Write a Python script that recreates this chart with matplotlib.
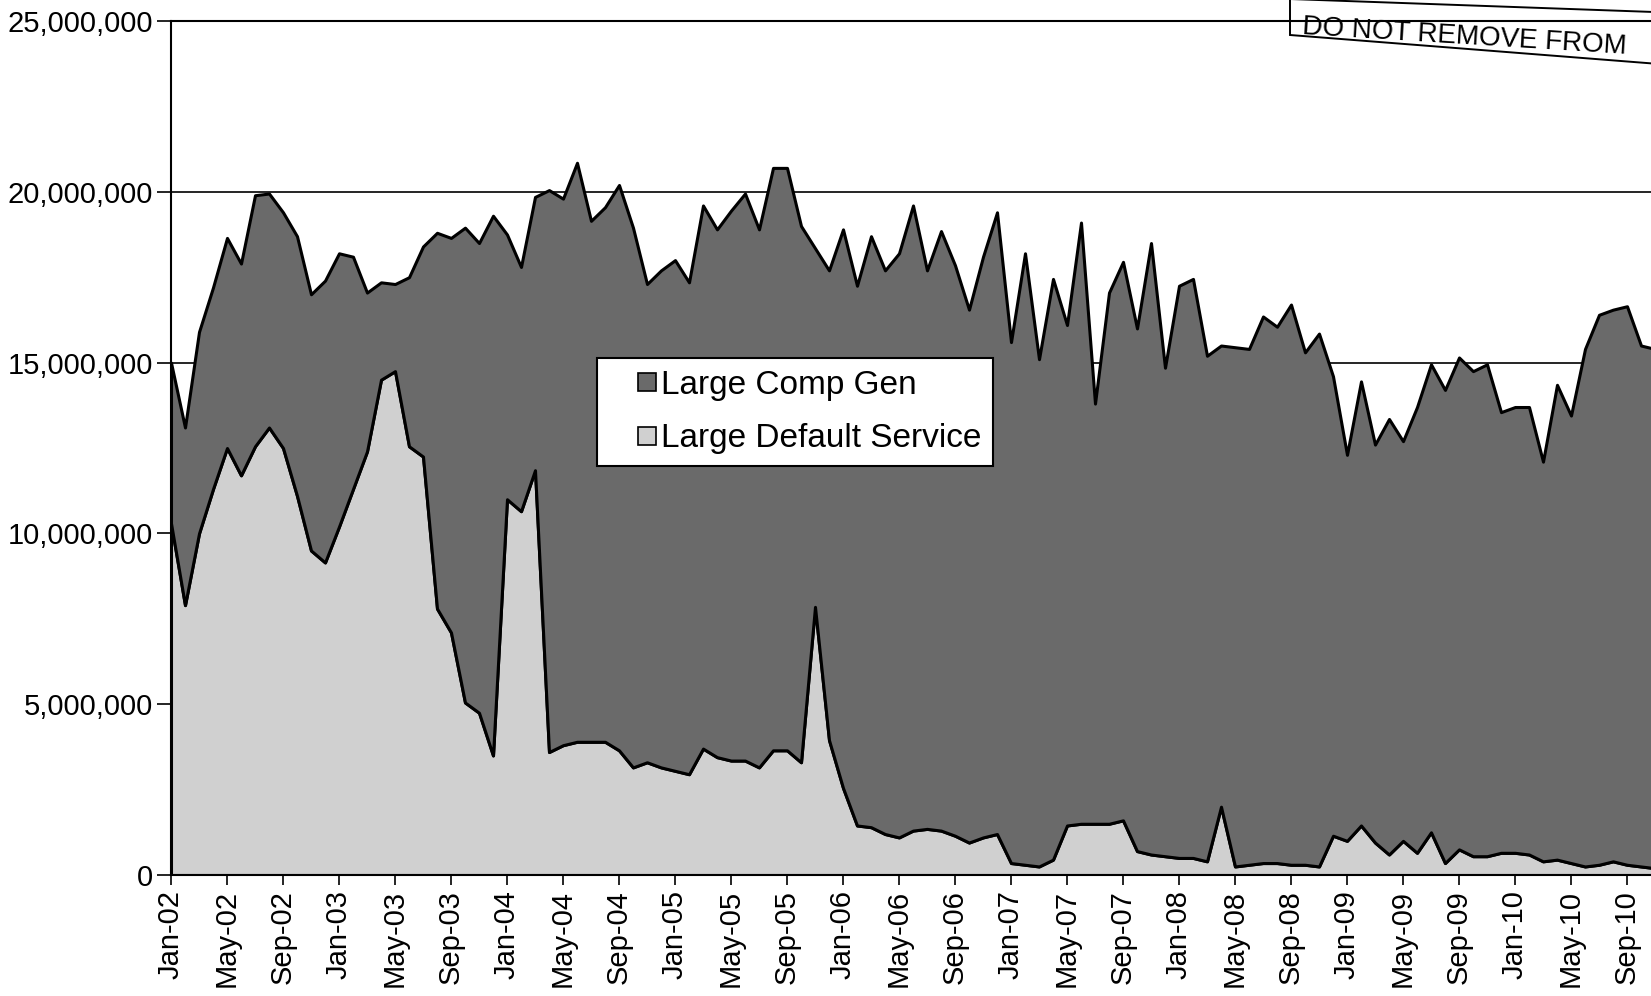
import matplotlib
matplotlib.use("Agg")
import matplotlib.pyplot as plt
import matplotlib.ticker as mticker
from matplotlib.legend_handler import HandlerBase
from matplotlib.patches import Rectangle, Polygon
import numpy as np
import pandas as pd

plt.rcParams["font.family"] = ["Liberation Sans", "DejaVu Sans"]

# monthly values, millions, Jan-02 onwards
default_service = [
    10.3, 7.9, 10.0, 11.3, 12.5, 11.7, 12.55, 13.1, 12.5, 11.1, 9.5, 9.15,
    10.2, 11.3, 12.4, 14.5, 14.75, 12.55, 12.25, 7.8, 7.1, 5.05, 4.75, 3.5,
    11.0, 10.65, 11.85, 3.6, 3.8, 3.9, 3.9, 3.9, 3.65, 3.15, 3.3, 3.15,
    3.05, 2.95, 3.7, 3.45, 3.35, 3.35, 3.15, 3.65, 3.65, 3.3, 7.85, 3.95,
    2.55, 1.45, 1.4, 1.2, 1.1, 1.3, 1.35, 1.3, 1.15, 0.95, 1.1, 1.2,
    0.35, 0.3, 0.25, 0.45, 1.45, 1.5, 1.5, 1.5, 1.6, 0.7, 0.6, 0.55,
    0.5, 0.5, 0.4, 2.0, 0.25, 0.3, 0.35, 0.35, 0.3, 0.3, 0.25, 1.15,
    1.0, 1.45, 0.95, 0.6, 1.0, 0.65, 1.25, 0.35, 0.75, 0.55, 0.55, 0.65,
    0.65, 0.6, 0.4, 0.45, 0.35, 0.25, 0.3, 0.4, 0.3, 0.25, 0.2,
]
comp_gen = [
    4.7, 5.2, 5.9, 5.9, 6.15, 6.2, 7.35, 6.85, 6.9, 7.6, 7.5, 8.25,
    8.0, 6.8, 4.65, 2.85, 2.55, 4.95, 6.15, 11.0, 11.55, 13.9, 13.75, 15.8,
    7.75, 7.15, 8.0, 16.45, 16.0, 16.95, 15.25, 15.65, 16.55, 15.8, 14.0, 14.55,
    14.95, 14.4, 15.9, 15.45, 16.1, 16.6, 15.75, 17.05, 17.05, 15.7, 10.5, 13.75,
    16.35, 15.8, 17.3, 16.5, 17.1, 18.3, 16.35, 17.55, 16.7, 15.6, 17.0, 18.2,
    15.25, 17.9, 14.85, 17.0, 14.65, 17.6, 12.3, 15.55, 16.35, 15.3, 17.9, 14.3,
    16.75, 16.95, 14.8, 13.5, 15.2, 15.1, 16.0, 15.7, 16.4, 15.0, 15.6, 13.45,
    11.3, 13.0, 11.65, 12.75, 11.7, 13.05, 13.7, 13.85, 14.4, 14.2, 14.4, 12.9,
    13.05, 13.1, 11.7, 13.9, 13.1, 15.15, 16.1, 16.15, 16.35, 15.25, 15.2,
]
months = pd.date_range("2002-01-01", periods=len(comp_gen), freq="MS").strftime("%b-%y")
series_names = ["Large Comp Gen", "Large Default Service"]

x = np.arange(len(months))


class SquareHandler(HandlerBase):
    # small square sitting at the right end of the handle box
    def create_artists(self, legend, orig_handle, xdescent, ydescent,
                       width, height, fontsize, trans):
        s = 0.78 * height
        r = Rectangle((-xdescent + width - s, -ydescent + (height - s) / 2), s, s,
                      facecolor=orig_handle.get_facecolor()[0],
                      edgecolor="black", linewidth=1.2, transform=trans)
        return [r]


fig = plt.figure(figsize=(16.51, 9.96), dpi=100)
ax = fig.add_axes([171 / 1651, 121 / 996, 1 - 171 / 1651, 854 / 996])

polys = ax.stackplot(x, default_service, comp_gen,
                     colors=["#d0d0d0", "#6a6a6a"],
                     edgecolor="black", linewidth=2.2, zorder=2)

ax.set_xlim(0, (1651 - 171) / 14.0)
ax.set_ylim(0, 25)
ax.set_yticks(np.arange(0, 26, 5))
ax.yaxis.set_major_formatter(mticker.FuncFormatter(lambda v, p: f"{v * 1e6:,.0f}"))
ax.set_xticks(x[::4])
ax.set_xticklabels(months[::4], rotation=90, ha="center", va="top")
ax.tick_params(axis="both", labelsize=21, width=1.2, color="black")
ax.tick_params(axis="x", length=7, pad=4)
ax.tick_params(axis="y", length=10, pad=3)

ax.set_axisbelow(True)
ax.yaxis.grid(True, color="black", linewidth=1.2)
ax.spines["right"].set_visible(False)
for s in ["left", "bottom", "top"]:
    ax.spines[s].set_linewidth(1.5)
    ax.spines[s].set_color("black")

leg = ax.legend([polys[1], polys[0]], series_names,
                handler_map={p: SquareHandler() for p in polys},
                loc="upper left", bbox_to_anchor=(597 / 1651, 1 - 358 / 996),
                bbox_transform=fig.transFigure, borderaxespad=0,
                fontsize=24, frameon=True, fancybox=False, framealpha=1,
                edgecolor="black", handlelength=1.42, handleheight=0.7,
                handletextpad=0.15, labelspacing=0.68, borderpad=0.35)
leg.get_frame().set_linewidth(1.5)
leg.set_zorder(5)

# scanned stamp in the top right corner (box runs off the page)
box = [(1290, -1), (1710, 14), (1710, 68), (1290, 35)]
fig.patches.append(Polygon([(px / 1651, 1 - py / 996) for px, py in box],
                           closed=True, fill=False, edgecolor="black",
                           linewidth=1.4, transform=fig.transFigure))
fig.text(1302 / 1651, 1 - 34 / 996, "DO NOT REMOVE FROM", fontsize=20,
         rotation=-3.5, rotation_mode="anchor", ha="left", va="baseline",
         color="black")

fig.savefig("out.png", dpi=100)
